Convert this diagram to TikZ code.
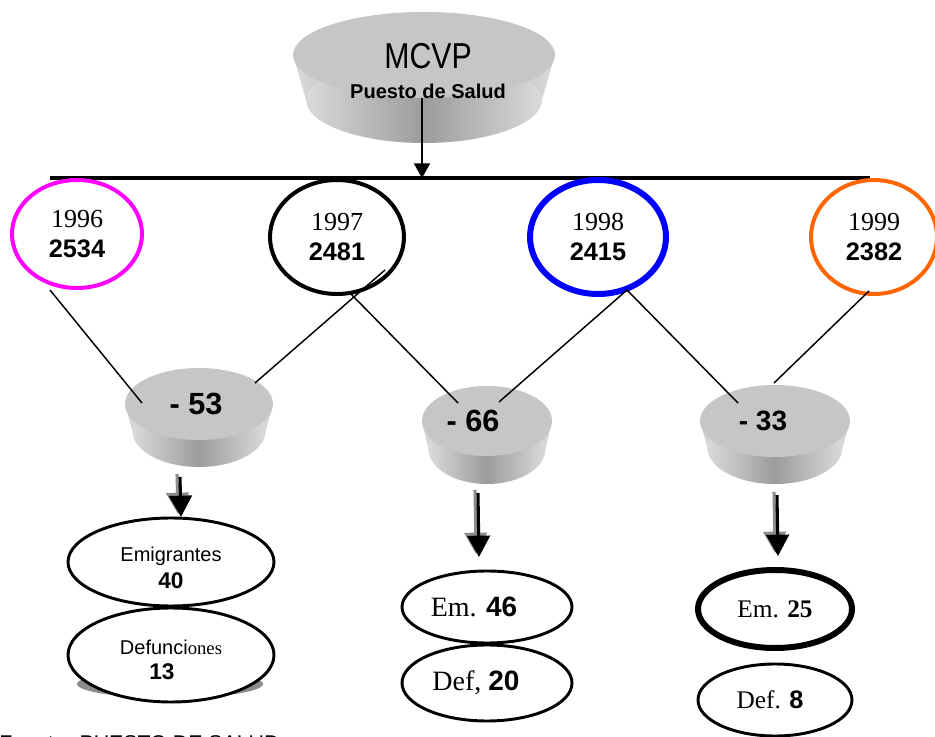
\documentclass[tikz,border=0pt]{standalone}
\usepackage{fontspec}
\usepackage{graphicx}
\setmainfont{Liberation Serif}
\newfontfamily\arial{Liberation Sans}
\usetikzlibrary{shapes.geometric,arrows.meta}
\newdimen\pxu \pxu=0.75pt
\definecolor{facegray}{HTML}{C6C6C6}
\definecolor{sidelight}{HTML}{DADADA}
\definecolor{sidedark}{HTML}{9C9C9C}
\definecolor{yrmagenta}{HTML}{FF00FF}
\definecolor{yrblue}{HTML}{0000FF}
\definecolor{yrorange}{HTML}{FF6600}
\tikzset{
  yearell/.style={ellipse, draw, line width=3pt, inner sep=0pt, align=center,
    font=\fontsize{19.5}{22.5}\selectfont},
  resell/.style={ellipse, draw, line width=2.2pt, fill=white, inner sep=0pt, align=center},
  link/.style={line width=1.1pt},
  disktop/.style={ellipse, fill=facegray, inner sep=0pt, align=center,
    font=\arial\bfseries\fontsize{23}{24}\selectfont},
  bigarrow/.style={line width=2.3pt, -{Triangle[length=16pt,width=17pt]}},
  shadowarrow/.style={line width=2.3pt, black!45, -{Triangle[length=16pt,width=17pt]}},
}
\newcommand\diskside[5]{%
  \pgfmathsetmacro\rxb{0.9*#3}%
  \shade[left color=sidelight, right color=sidelight, middle color=sidedark]
    (#1-#3,#2) -- (#1-\rxb,#2+#5) -- (#1+\rxb,#2+#5) -- (#1+#3,#2) -- cycle;
  \shade[left color=sidelight, right color=sidelight, middle color=sidedark]
    (#1,#2+#5) ellipse [x radius=\rxb\pxu, y radius=#4\pxu];
}
\begin{document}
\begin{tikzpicture}[x=0.75pt,y=-0.75pt]
\useasboundingbox (0,0) rectangle (935,737);
\clip (0,0) rectangle (935,737);

% ---- top disk
\diskside{424}{55}{131}{43}{45}
\node[disktop, minimum width=262\pxu, minimum height=86\pxu] (mcvp) at (424,55) {};
\node[align=center, inner sep=0pt, font=\arial\fontsize{15}{23}\selectfont] (mcvptxt) at (428,71)
  {{\fontsize{27}{23}\selectfont\scalebox{0.84}[1]{MCVP}}\\
   {\bfseries Puesto de Salud}};

% ---- bar
\coordinate (barL) at (50,178);
\coordinate (barR) at (870,178);
\coordinate (barM) at (422,178);
\draw[line width=2.6pt] (barL) -- (barR);
\draw[line width=1.5pt, -{Triangle[length=11pt,width=12pt]}] (mcvp.south -| barM) -- (barM);

% ---- year ellipses
\node[yearell, draw=yrmagenta, minimum width=130\pxu, minimum height=108\pxu] (y96) at (77,234)
  {1996\\{\arial\bfseries\fontsize{19}{22.5}\selectfont 2534}};
\node[yearell, draw=black, minimum width=134\pxu, minimum height=114\pxu] (y97) at (337,237)
  {1997\\{\arial\bfseries\fontsize{19}{22.5}\selectfont 2481}};
\node[yearell, draw=yrblue, line width=4.5pt, minimum width=136\pxu, minimum height=114\pxu] (y98) at (598,237)
  {1998\\{\arial\bfseries\fontsize{19}{22.5}\selectfont 2415}};
\node[yearell, draw=yrorange, minimum width=126\pxu, minimum height=114\pxu] (y99) at (874,237)
  {1999\\{\arial\bfseries\fontsize{19}{22.5}\selectfont 2382}};

% ---- difference disks
\diskside{199}{404}{74}{36}{27}
\node[disktop, minimum width=148\pxu, minimum height=72\pxu] (d53) at (199,404) {\hspace*{-6\pxu}- 53};
\diskside{487}{421}{65}{35}{28}
\node[disktop, minimum width=130\pxu, minimum height=70\pxu] (d66) at (487,421) {\hspace*{-28\pxu}- 66};
\diskside{775}{421}{75}{36}{27}
\node[disktop, minimum width=150\pxu, minimum height=72\pxu, font=\arial\bfseries\fontsize{21}{23}\selectfont] (d33) at (775,421) {\hspace*{-24\pxu}- 33};

% ---- connectors years -> differences
\coordinate (l1a) at (50,290);  \coordinate (l1b) at (142,403);
\coordinate (l2a) at (385,270); \coordinate (l2b) at (255,383);
\coordinate (l3a) at (350,293); \coordinate (l3b) at (458,403);
\coordinate (l4a) at (627,290); \coordinate (l4b) at (499,402);
\coordinate (l5a) at (627,290); \coordinate (l5b) at (738,403);
\coordinate (l6a) at (869,291); \coordinate (l6b) at (774,383);
\draw[link] (l1a) -- (l1b);
\draw[link] (l2a) -- (l2b);
\draw[link] (l3a) -- (l3b);
\draw[link] (l4a) -- (l4b);
\draw[link] (l5a) -- (l5b);
\draw[link] (l6a) -- (l6b);

% ---- result ellipses
\fill[black!45] (170,684) ellipse [x radius=93\pxu, y radius=14\pxu];
\node[resell, minimum width=206\pxu, minimum height=88\pxu, font=\arial\fontsize{15}{20}\selectfont] (em40) at (171,562)
  {\rule{0pt}{20pt}Emigrantes\\{\bfseries\fontsize{17}{20}\selectfont 40}};
\node[resell, minimum width=206\pxu, minimum height=94\pxu, font=\arial\fontsize{15}{18.5}\selectfont] (def13) at (171,655)
  {\rule{0pt}{18pt}Defunci{\rmfamily\fontsize{14}{18.5}\selectfont ones}\\{\bfseries\fontsize{17}{18.5}\selectfont 13}\hspace*{18\pxu}};
\node[resell, minimum width=170\pxu, minimum height=72\pxu] (em46) at (487,607)
  {\fontsize{21}{24}\selectfont Em. {\arial\bfseries 46}\hspace*{26\pxu}};
\node[resell, minimum width=170\pxu, minimum height=76\pxu] (def20) at (487,683)
  {\fontsize{21}{24}\selectfont Def, {\arial\bfseries 20}\hspace*{22\pxu}};
\node[resell, line width=4.5pt, minimum width=154\pxu, minimum height=78\pxu] (em25) at (775,609)
  {\fontsize{19}{22}\selectfont Em. \textbf{25}};
\node[resell, minimum width=154\pxu, minimum height=72\pxu] (def8) at (775,700)
  {\fontsize{19}{22}\selectfont Def. {\arial\bfseries 8}\hspace*{10\pxu}};

% ---- thick arrows
\coordinate (a53s) at (180,477); \coordinate (a53e) at (181,517);
\coordinate (a66s) at (478,493); \coordinate (a66e) at (479,557);
\coordinate (a33s) at (777,495); \coordinate (a33e) at (778,556);
\draw[shadowarrow] ([shift={(-3,-3)}]a53s) -- ([shift={(-3,-3)}]a53e);
\draw[bigarrow] (a53s) -- (a53e);
\draw[shadowarrow] ([shift={(-3,-3)}]a66s) -- ([shift={(-3,-3)}]a66e);
\draw[bigarrow] (a66s) -- (a66e);
\draw[shadowarrow] ([shift={(-3,-3)}]a33s) -- ([shift={(-3,-3)}]a33e);
\draw[bigarrow] (a33s) -- (a33e);

% ---- source line (cut by the page edge)
\node[anchor=base west, inner sep=0pt, font=\arial\fontsize{16}{18}\selectfont] (src) at (-1,750.5)
  {Fuente:\hspace{8\pxu}PUESTO DE SALUD};
\end{tikzpicture}
\end{document}
